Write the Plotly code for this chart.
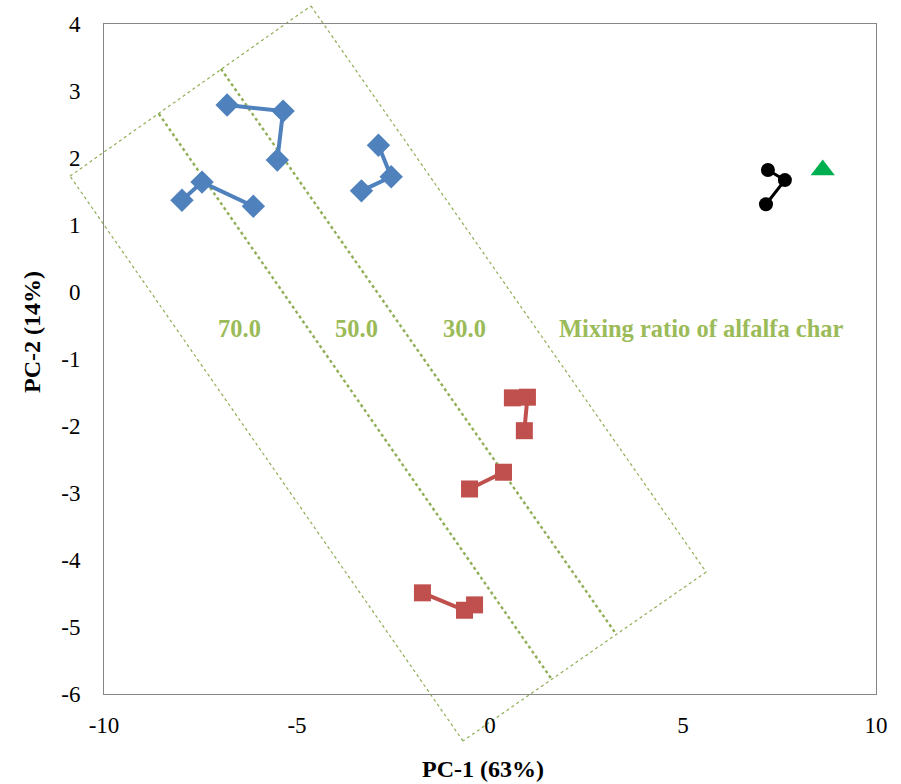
import plotly.graph_objects as go

# ---- data (PC-1, PC-2); None separates the linked groups ----
blue_x = [-6.81, -5.36, -5.51, None, -7.98, -7.46, -6.13, None, -2.89, -2.56, -3.33]
blue_y = [2.79, 2.70, 1.97, None, 1.37, 1.64, 1.28, None, 2.19, 1.72, 1.51]

red_x = [0.58, 0.97, 0.89, None, 0.35, -0.53, None, -1.75, -0.66, -0.40]
red_y = [-1.58, -1.57, -2.07, None, -2.69, -2.94, None, -4.49, -4.75, -4.67]

black_x = [7.20, 7.64, 7.15]
black_y = [1.82, 1.67, 1.31]

green_x = [8.62]
green_y = [1.82]

# mixing-ratio labels
ratio_labels = ["70.0", "50.0", "30.0", "Mixing ratio of alfalfa char"]
ratio_x = [-6.48, -3.47, -0.65, 5.49]
ratio_y = [-0.55, -0.55, -0.55, -0.55]

# drawn rectangle (data units): left, top, right, bottom corners
rect_x = [-10.88, -4.64, 5.60, -0.70]
rect_y = [1.73, 4.27, -4.18, -6.70]
# inner dividing lines
div1_x = [-8.58, 1.61]
div1_y = [2.66, -5.79]
div2_x = [-6.97, 3.26]
div2_y = [3.33, -5.10]

X_RANGE = [-10, 10]
Y_RANGE = [-6, 4]
X_TICKS = [-10, -5, 0, 5, 10]
X_TICKTEXT = ["-10", "-5", "0", "5", "10"]
Y_TICKS = [-6, -5, -4, -3, -2, -1, 0, 1, 2, 3, 4]
Y_TICKTEXT = ["-6", "-5", "-4", "-3", "-2", "-1", "0", "1", "2", "3", "4"]

FONT = "Liberation Serif"
GREEN_TXT = "#9BBB59"
LINE_COL = "#8FAE55"


def px(x):
    return (x - X_RANGE[0]) / (X_RANGE[1] - X_RANGE[0])


def py(y):
    return (y - Y_RANGE[0]) / (Y_RANGE[1] - Y_RANGE[0])


fig = go.Figure()

fig.add_trace(go.Scatter(
    x=blue_x, y=blue_y, mode="lines+markers",
    line=dict(color="#4F81BD", width=4),
    marker=dict(symbol="diamond", size=18, color="#4F81BD"),
    connectgaps=False, showlegend=False))

fig.add_trace(go.Scatter(
    x=red_x, y=red_y, mode="lines+markers",
    line=dict(color="#C0504D", width=4),
    marker=dict(symbol="square", size=17, color="#C0504D"),
    connectgaps=False, showlegend=False))

fig.add_trace(go.Scatter(
    x=black_x, y=black_y, mode="lines+markers",
    line=dict(color="black", width=3),
    marker=dict(symbol="circle", size=14, color="black"),
    showlegend=False))

fig.add_trace(go.Scatter(
    x=green_x, y=green_y, mode="markers",
    marker=dict(symbol="triangle-up", size=21, color="#00B050"),
    showlegend=False))

# rectangle and dividers (paper refs so they can extend past the plot area)
shapes = []
n = len(rect_x)
for i in range(n):
    j = (i + 1) % n
    shapes.append(dict(type="line", xref="paper", yref="paper",
                       x0=px(rect_x[i]), y0=py(rect_y[i]),
                       x1=px(rect_x[j]), y1=py(rect_y[j]),
                       line=dict(color=LINE_COL, width=1.2, dash="dot"),
                       layer="below"))
for dx, dy in [(div1_x, div1_y), (div2_x, div2_y)]:
    shapes.append(dict(type="line", xref="paper", yref="paper",
                       x0=px(dx[0]), y0=py(dy[0]),
                       x1=px(dx[1]), y1=py(dy[1]),
                       line=dict(color=LINE_COL, width=2.4, dash="dot"),
                       layer="below"))

annotations = []
for t, x, y in zip(ratio_labels, ratio_x, ratio_y):
    annotations.append(dict(x=x, y=y, xref="x", yref="y", text="<b>%s</b>" % t,
                            showarrow=False, xanchor="center", yanchor="middle",
                            font=dict(family=FONT, size=24.5, color=GREEN_TXT)))

# axis titles as annotations positioned in pixels
ann_px = [
    dict(text="<b>PC-1 (63%)</b>", x=(483 - 104) / 772, y=-(769 - 694) / 670, textangle=0),
    dict(text="<b>PC-2 (14%)</b>", x=-(104 - 32) / 772, y=(694 - 332) / 670, textangle=-90),
]
for a in ann_px:
    annotations.append(dict(x=a["x"], y=a["y"], xref="paper", yref="paper", text=a["text"],
                            textangle=a["textangle"], showarrow=False,
                            xanchor="center", yanchor="middle",
                            font=dict(family=FONT, size=24, color="black")))

fig.update_layout(
    width=901, height=784,
    margin=dict(l=104, r=25, t=24, b=90),
    paper_bgcolor="white", plot_bgcolor="white",
    font=dict(family=FONT, size=23, color="black"),
    shapes=shapes,
    annotations=annotations,
)

fig.update_xaxes(range=X_RANGE, tickvals=X_TICKS, ticktext=X_TICKTEXT,
                 showgrid=False, zeroline=False,
                 showline=True, linecolor="#868686", linewidth=1, mirror=True,
                 ticks="", ticklabelstandoff=10,
                 tickfont=dict(family=FONT, size=23, color="black"))
fig.update_yaxes(range=Y_RANGE, tickvals=Y_TICKS, ticktext=Y_TICKTEXT,
                 showgrid=False, zeroline=False,
                 showline=True, linecolor="#868686", linewidth=1, mirror=True,
                 ticks="", ticklabelstandoff=18,
                 tickfont=dict(family=FONT, size=23, color="black"))

fig.write_html("out.html")
